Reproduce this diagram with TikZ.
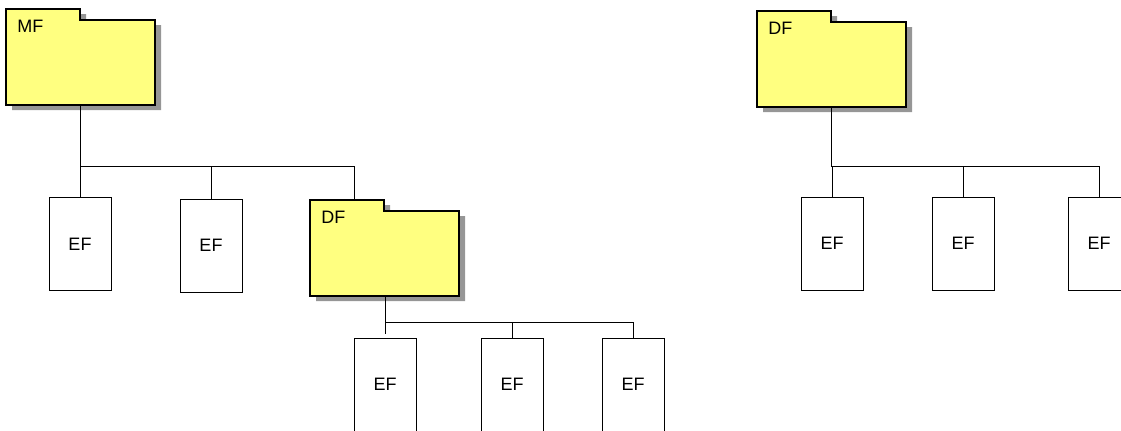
\documentclass[tikz,border=0pt]{standalone}
\usepackage{fontspec}
\setmainfont{Liberation Sans}
\usetikzlibrary{positioning,shadows}
\definecolor{folderyellow}{RGB}{255,255,128}
\definecolor{shadowgray}{RGB}{150,150,150}
\tikzset{%
  folder/.style = {rectangle,inner sep=0pt,outer sep=0pt,
        minimum width=74.5pt,minimum height=48pt},
  folderline/.style = {draw=black,line width=0.7pt,fill=folderyellow,
        drop shadow={shadow xshift=3pt,shadow yshift=-2.5pt,
        opacity=1,fill=shadowgray}},
  ef/.style = {rectangle,draw,line width=0.5pt,inner sep=0pt,
        minimum width=31pt,minimum height=46.5pt},
  tag/.style = {anchor=west,inner sep=0pt},
  link/.style = {draw,line width=0.5pt}
}
% folder outline with its tab
\newcommand{\folderpath}[1]{%
  \path[folderline] (#1.north west) -- ++(74,0) -- ++(0,11)
     -| (#1.south east) -| cycle;}

\begin{document}
\begin{tikzpicture}[x=0.5pt,y=-0.5pt]\fontsize{9}{11}\selectfont
   \useasboundingbox (0,0) rectangle (1121,430);

   % left tree
   \node[folder] (mf) [anchor=north west] at (6,9) {};
   \folderpath{mf}
   \node[tag] (mf-tag) at ([shift={(11,17)}]mf.north west) {MF};

   \node[ef] (ef-a) at (80,244) {EF};
   \node[ef] (ef-b) at (211,245.5) {EF};
   \node[folder] (df) [anchor=north west] at (310,200) {};
   \folderpath{df}
   \node[tag] (df-tag) at ([shift={(11,17)}]df.north west) {DF};
   \coordinate (df-in) at (354,200);

   \node[ef] (ef-c) at (385,384.5) {EF};
   \node[ef] (ef-d) at (512,384.5) {EF};
   \node[ef] (ef-e) at (633,384.5) {EF};

   \draw[link] (mf.south) -- ++(0,61) -| (ef-a.north);
   \draw[link] (mf.south) ++(0,61) -| (ef-b.north);
   \draw[link] (mf.south) ++(0,61) -| (df-in);

   \draw[link] (df.south -| ef-c) -- ++(0,38);
   \draw[link] (df.south -| ef-c) ++(0,26) -| (ef-d.north);
   \draw[link] (df.south -| ef-c) ++(0,26) -| (ef-e.north);

   % right tree
   \node[folder] (df-r) [anchor=north west] at (757,11) {};
   \folderpath{df-r}
   \node[tag] (df-r-tag) at ([shift={(11,17)}]df-r.north west) {DF};

   \node[ef] (ef-f) at (832,243.5) {EF};
   \node[ef] (ef-g) at (963,243.5) {EF};
   \node[ef] (ef-h) at (1099,243.5) {EF};

   \draw[link] (df-r.south) -- ++(0,59) -| (ef-f.north);
   \draw[link] (df-r.south) ++(0,59) -| (ef-g.north);
   \draw[link] (df-r.south) ++(0,59) -| (ef-h.north);
\end{tikzpicture}
\end{document}
